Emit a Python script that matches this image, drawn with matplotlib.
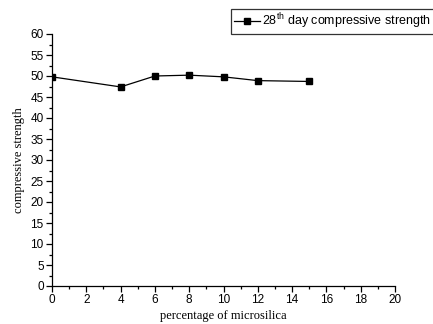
import matplotlib
matplotlib.use("Agg")
import matplotlib.pyplot as plt
from matplotlib.ticker import MultipleLocator

plt.rcParams["font.family"] = ["Liberation Sans", "DejaVu Sans"]
plt.rcParams["mathtext.fontset"] = "custom"
plt.rcParams["mathtext.rm"] = "Liberation Sans"

x_vals = [0, 4, 6, 8, 10, 12, 15]
strength = [49.8, 47.4, 50.0, 50.2, 49.8, 48.9, 48.7]
series_label = "28$^{\\mathrm{th}}$ day compressive strength"
x_label = "percentage of microsilica"
y_label = "compressive strength"

fig = plt.figure(figsize=(4.33, 3.24), dpi=100)
ax = fig.add_axes([52/433, 38/324, 343/433, 252/324])
line, = ax.plot(x_vals, strength, color="black", lw=0.9, marker="s", ms=4.5,
                label=series_label)
ax.set_xlim(0, 20)
ax.set_ylim(0, 60)
ax.xaxis.set_major_locator(MultipleLocator(2))
ax.xaxis.set_minor_locator(MultipleLocator(1))
ax.yaxis.set_major_locator(MultipleLocator(5))
ax.yaxis.set_minor_locator(MultipleLocator(2.5))
for s in ["top", "right"]:
    ax.spines[s].set_visible(False)
for s in ["left", "bottom"]:
    ax.spines[s].set_linewidth(0.9)
ax.tick_params(which="major", direction="out", length=4, width=0.9,
               labelsize=8.5, pad=2)
ax.tick_params(which="minor", direction="out", length=2.5, width=0.9)
ax.set_xlabel(x_label, fontfamily="Liberation Serif", fontsize=9, labelpad=3)
ax.set_ylabel(y_label, fontfamily="Liberation Serif", fontsize=9, labelpad=4)

leg = fig.legend(handles=[line], loc="upper left",
                 bbox_to_anchor=(231/433, 1 - 9/324),
                 bbox_transform=fig.transFigure,
                 prop={"family": "Liberation Sans", "size": 9},
                 frameon=True, fancybox=False, handlelength=2.1,
                 handletextpad=0.2, borderpad=0.2, borderaxespad=0)
leg.get_frame().set_edgecolor("black")
leg.get_frame().set_linewidth(0.9)

fig.savefig("out.png", dpi=100)
